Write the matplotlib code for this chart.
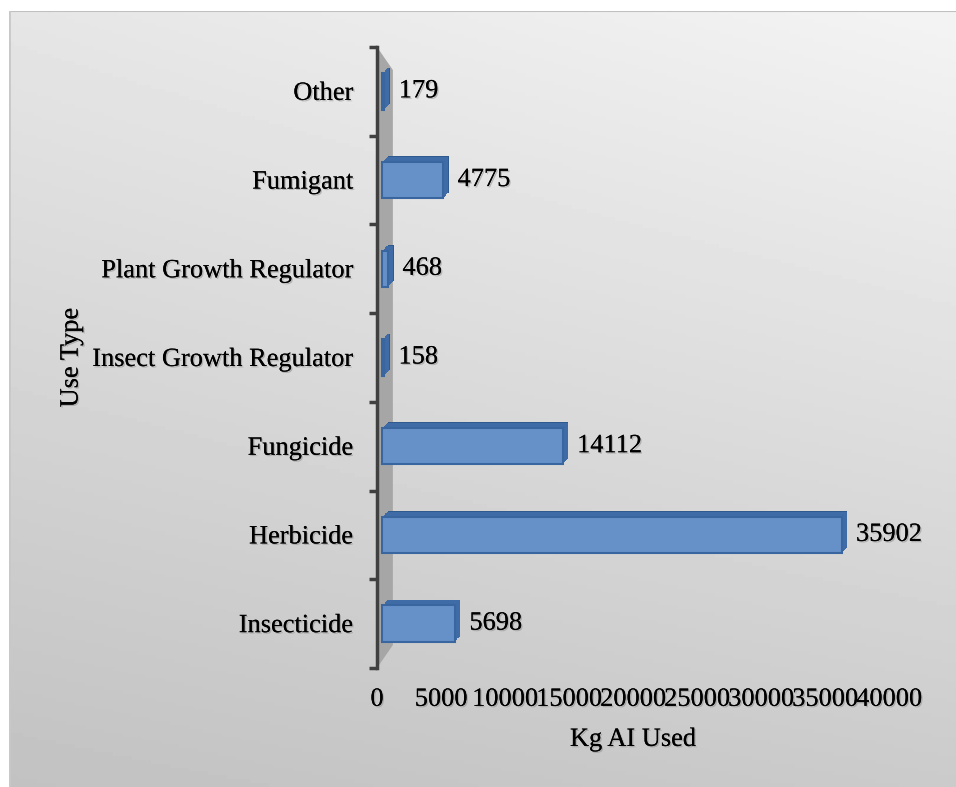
import numpy as np
import matplotlib
matplotlib.use("Agg")
import matplotlib.pyplot as plt
import matplotlib.patheffects as pe
import matplotlib.transforms as mtransforms
from matplotlib.patches import Polygon

categories = ["Insecticide", "Herbicide", "Fungicide", "Insect Growth Regulator",
              "Plant Growth Regulator", "Fumigant", "Other"]
values = [5698, 35902, 14112, 158, 468, 4775, 179]
x_ticks = [0, 5000, 10000, 15000, 20000, 25000, 30000, 35000, 40000]

plt.rcParams['font.family'] = ['Liberation Serif', 'DejaVu Serif']
FS = 19

fig = plt.figure(figsize=(9.56, 7.87), dpi=100)
fig.patch.set_facecolor('white')

# gradient background
bg = fig.add_axes([9/956, 0, 1 - 9/956, 1 - 11/787])
bg.set_axis_off()
ny, nx = 200, 200
yy, xx = np.mgrid[0:1:ny*1j, 0:1:nx*1j]
grad = 0.935 - 0.14 * yy - 0.035 * (1 - xx) + 0.02 * xx * (1 - yy)
bg.imshow(grad, cmap='gray', vmin=0, vmax=1, aspect='auto', extent=[0, 1, 0, 1], origin='upper')
bg.plot([0, 1], [1, 1], color='#c0c0c0', lw=1.5, transform=bg.transAxes)
bg.plot([0, 0], [0, 1], color='#c8c8c8', lw=2, transform=bg.transAxes)

ax = fig.add_axes([377/956, 1 - 668/787, (889 - 377)/956, (668 - 47)/787])
ax.patch.set_alpha(0)
ax.set_xlim(0, 40000)
ax.set_ylim(-0.5, len(categories) - 0.5)

# 3D back wall
wall = Polygon([[0.0, 0.0], [0.0, 1.0], [0.031, 0.963], [0.031, 0.037]],
               closed=True, transform=ax.transAxes, facecolor='#a4a4a4',
               edgecolor='none', alpha=0.95, zorder=0)
ax.add_patch(wall)

ypos = np.arange(len(categories))
extrude = [pe.SimplePatchShadow(offset=(4.0, 4.0), shadow_rgbFace='#2e5a8e', alpha=1.0)]
extrude += [pe.SimplePatchShadow(offset=(0.6 * k, 0.6 * k), shadow_rgbFace='#3f6ca6', alpha=1.0)
            for k in range(6, 0, -1)]
shift = mtransforms.offset_copy(ax.transData, fig=fig, x=5, y=0, units='dots')
bars = ax.barh(ypos, values, height=0.41, left=0, color='#6691c8', edgecolor='#3a669f',
               lw=1.5, zorder=3)
for b in bars:
    b.set_transform(shift)
    b.set_path_effects(extrude + [pe.Normal()])

shadow_fx = [pe.withSimplePatchShadow(offset=(1, -1), shadow_rgbFace='#888888', alpha=0.5), pe.Normal()]
for b, v in zip(bars, values):
    ax.annotate(f"{v}", (b.get_width(), b.get_y() + b.get_height() / 2),
                xytext=(14, 0), textcoords='offset points', va='center', ha='left',
                fontsize=FS, zorder=4, path_effects=shadow_fx)

ax.set_yticks(ypos)
ax.set_yticklabels(categories, fontsize=FS)
for t in ax.get_yticklabels():
    t.set_path_effects(shadow_fx)
ax.set_yticks(np.arange(-0.5, len(categories), 1.0), minor=True)
ax.tick_params(axis='y', which='major', length=0, pad=17)
ax.tick_params(axis='y', which='minor', length=6, width=2.5, color='#404040', direction='out')

ax.set_xticks(x_ticks)
ax.set_xticklabels([str(t) for t in x_ticks], fontsize=FS)
for t in ax.get_xticklabels():
    t.set_path_effects(shadow_fx)
ax.tick_params(axis='x', length=0, pad=15)

for s in ['top', 'right', 'bottom']:
    ax.spines[s].set_visible(False)
ax.spines['left'].set_linewidth(2.5)
ax.spines['left'].set_color('#404040')

ax.set_xlabel("Kg AI Used", fontsize=FS, labelpad=13, path_effects=shadow_fx)
ax.set_ylabel("Use Type", fontsize=FS, path_effects=shadow_fx)
ax.yaxis.set_label_coords(-0.575, 0.5)

fig.savefig("out.png", dpi=100)
